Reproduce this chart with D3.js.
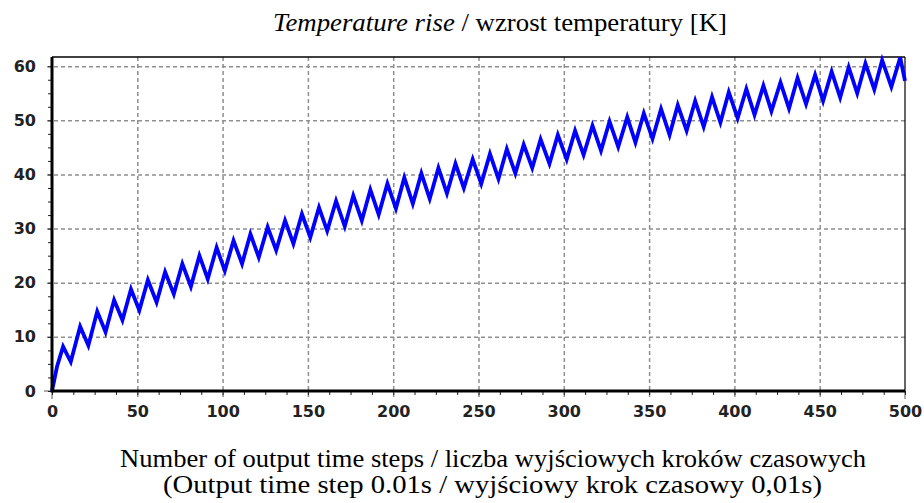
<!DOCTYPE html>
<html>
<head>
<meta charset="utf-8">
<script src="https://cdn.jsdelivr.net/npm/d3@7"></script>
<style>
  body { margin: 0; background: #fff; }
  .tick-label text { font-family: "DejaVu Sans", sans-serif; font-weight: bold; font-size: 16px; fill: #222; }
  .caption { font-family: "Liberation Serif", "Times New Roman", serif; font-size: 25px; fill: #000; }
</style>
</head>
<body>
<div id="chart"></div>
<script>
// vertices of the curve (output time step, temperature rise K)
var steps = [0, 3, 6.5, 11, 16.5, 21.3, 26.5, 31.4, 36.4, 41.3, 46.3, 51.2, 56.2, 61.3, 66.3, 71.4,
  76.4, 81.4, 86.4, 91.3, 96.5, 101.3, 106.4, 111.4, 116.3, 121.2, 126.4, 131.4, 136.6, 141.5,
  146.5, 151.4, 156.5, 161.3, 166.5, 171.6, 176.6, 181.6, 186.6, 191.5, 196.6, 201.6, 206.5,
  211.5, 216.5, 221.4, 226.5, 231.5, 236.5, 241.4, 246.6, 251.6, 256.7, 261.7, 266.6, 271.6,
  276.5, 281.5, 286.4, 291.6, 296.5, 301.7, 306.6, 311.6, 316.8, 321.8, 326.8, 331.9, 337.2,
  342, 346.9, 352, 357, 362, 366.8, 372, 377, 382, 386.9, 391.8, 396.7, 401.9, 407, 411.8,
  417, 421.7, 427, 432, 437, 442, 447.3, 452, 457, 462, 467, 472, 476.8, 482, 486.6, 492,
  497.2, 500];
var temps = [0, 4.6, 8.2, 5.4, 11.9, 8.4, 14.7, 10.9, 16.8, 13.1, 18.8, 14.9, 20.5, 16.4, 22.0, 17.9,
  23.5, 19.3, 25.0, 20.7, 26.5, 22.2, 27.8, 23.5, 29.0, 24.7, 30.3, 26.0, 31.5, 27.2,
  32.7, 28.4, 33.9, 29.6, 35.1, 30.4, 36.1, 31.5, 37.2, 32.6, 38.3, 33.7, 39.4,
  34.6, 40.2, 35.5, 41.2, 36.5, 42.0, 37.5, 42.8, 38.3, 43.8, 39.2, 44.7, 40.2,
  45.5, 41.2, 46.5, 42.0, 47.3, 42.8, 48.1, 43.6, 49.0, 44.4, 49.8, 45.1, 50.6,
  45.9, 51.3, 46.6, 52.1, 47.3, 52.8, 48.1, 53.6, 48.8, 54.3, 49.6, 55.2, 50.4, 55.8, 51.0,
  56.4, 51.7, 57.0, 52.2, 57.8, 53.0, 58.4, 53.6, 59.0, 54.2, 59.8, 55.0, 60.5, 55.7, 61.1, 56.2,
  61.6, 57.3];

var xTicks = [0, 50, 100, 150, 200, 250, 300, 350, 400, 450, 500];
var yTicks = [0, 10, 20, 30, 40, 50, 60];
var xMinor = d3.range(0, 500.1, 12.5);
var yMinor = d3.range(0, 61.7, 2.5);

var svgWidth = 924;
var svgHeight = 503;
var margin = { top: 57, right: 19, bottom: 112, left: 52 };
var width = svgWidth - margin.left - margin.right;
var height = svgHeight - margin.top - margin.bottom;

var svg = d3.select('#chart').append('svg')
  .attr('width', svgWidth)
  .attr('height', svgHeight);

var chartGroup = svg.append('g')
  .attr('transform', `translate(${margin.left}, ${margin.top})`);

var xScale = d3.scaleLinear().domain([0, 500]).range([0, width]);
var yScale = d3.scaleLinear().domain([0, 61.7]).range([height, 0]);

// dashed grid
var gridColor = '#8f8f8f';
chartGroup.append('g')
  .call(d3.axisBottom(xScale).tickValues(xTicks.slice(1, -1)).tickSize(height + 8).tickFormat(''))
  .call(g => g.select('.domain').remove())
  .selectAll('line')
  .attr('stroke', gridColor).attr('stroke-width', 1.5).attr('stroke-dasharray', '4,3');

chartGroup.append('g')
  .attr('transform', `translate(${width}, 0)`)
  .call(d3.axisLeft(yScale).tickValues(yTicks.slice(1)).tickSize(width + 8).tickFormat(''))
  .call(g => g.select('.domain').remove())
  .selectAll('line')
  .attr('stroke', gridColor).attr('stroke-width', 1.5).attr('stroke-dasharray', '4,3');

// outward tick stubs for 0
chartGroup.append('line')
  .attr('x1', -8).attr('x2', 0).attr('y1', yScale(0)).attr('y2', yScale(0))
  .attr('stroke', gridColor).attr('stroke-width', 1.5);
chartGroup.append('line')
  .attr('x1', 0).attr('x2', 0).attr('y1', height).attr('y2', height + 8)
  .attr('stroke', gridColor).attr('stroke-width', 1.5);
chartGroup.append('line')
  .attr('x1', width).attr('x2', width).attr('y1', height).attr('y2', height + 8)
  .attr('stroke', gridColor).attr('stroke-width', 1.5);

// minor ticks
chartGroup.append('g')
  .attr('transform', `translate(0, ${height})`)
  .call(d3.axisBottom(xScale).tickValues(xMinor).tickSize(4).tickFormat(''))
  .call(g => g.select('.domain').remove())
  .selectAll('line').attr('stroke', '#222');

chartGroup.append('g')
  .call(d3.axisLeft(yScale).tickValues(yMinor).tickSize(4).tickFormat(''))
  .call(g => g.select('.domain').remove())
  .selectAll('line').attr('stroke', '#222');

// tick labels
chartGroup.append('g')
  .classed('tick-label', true)
  .attr('transform', `translate(0, ${height})`)
  .call(d3.axisBottom(xScale).tickValues(xTicks).tickSize(8).tickPadding(7))
  .call(g => g.select('.domain').remove())
  .call(g => g.selectAll('line').remove());

chartGroup.append('g')
  .classed('tick-label', true)
  .call(d3.axisLeft(yScale).tickValues(yTicks).tickSize(8).tickPadding(8))
  .call(g => g.select('.domain').remove())
  .call(g => g.selectAll('line').remove());

// frame
chartGroup.append('line')
  .attr('x1', 0).attr('x2', width).attr('y1', 0).attr('y2', 0)
  .attr('stroke', '#000').attr('stroke-width', 1.5);
chartGroup.append('line')
  .attr('x1', width).attr('x2', width).attr('y1', 0).attr('y2', height)
  .attr('stroke', '#000').attr('stroke-width', 1.2);

// the curve
var points = steps.map((s, i) => [s, temps[i]]);
var line = d3.line()
  .x(d => xScale(d[0]))
  .y(d => yScale(d[1]));

chartGroup.append('path')
  .datum(points)
  .attr('d', line)
  .attr('fill', 'none')
  .attr('stroke', '#0000ff')
  .attr('stroke-width', 3.8)
  .attr('stroke-linejoin', 'miter');

// thick axes
chartGroup.append('line')
  .attr('x1', 0).attr('x2', 0).attr('y1', 0).attr('y2', height + 1.5)
  .attr('stroke', '#000').attr('stroke-width', 3);
chartGroup.append('line')
  .attr('x1', 0).attr('x2', width).attr('y1', height).attr('y2', height)
  .attr('stroke', '#000').attr('stroke-width', 3);

// titles
var title = svg.append('text')
  .classed('caption', true)
  .attr('x', 273).attr('y', 31)
  .attr('textLength', 454)
  .attr('lengthAdjust', 'spacingAndGlyphs');
title.append('tspan').attr('font-style', 'italic').text('Temperature rise');
title.append('tspan').text(' / wzrost temperatury [K]');

svg.append('text')
  .classed('caption', true)
  .attr('x', 120).attr('y', 467)
  .attr('textLength', 746)
  .attr('lengthAdjust', 'spacingAndGlyphs')
  .text('Number of output time steps / liczba wyjściowych kroków czasowych');

svg.append('text')
  .classed('caption', true)
  .attr('x', 163).attr('y', 493)
  .attr('textLength', 659)
  .attr('lengthAdjust', 'spacingAndGlyphs')
  .text('(Output time step 0.01s / wyjściowy krok czasowy 0,01s)');
</script>
</body>
</html>
